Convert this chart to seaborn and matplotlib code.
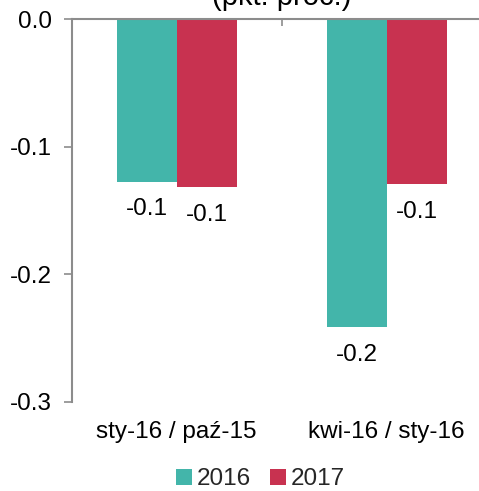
import matplotlib
matplotlib.use("Agg")
import matplotlib.pyplot as plt
import seaborn as sns
import pandas as pd

categories = ["sty-16 / paź-15", "kwi-16 / sty-16"]
years = ["2016", "2017"]
values_2016 = [-0.1275, -0.2416]
values_2017 = [-0.1319, -0.1295]
yticks = [0.0, -0.1, -0.2, -0.3]
title = "(pkt. proc.)"

df = pd.DataFrame({
    "cat": categories * 2,
    "year": [years[0]] * 2 + [years[1]] * 2,
    "val": values_2016 + values_2017,
})

sns.set_style("white")
plt.rcParams["font.family"] = ["Liberation Sans", "DejaVu Sans"]

fs = 17.5
fig = plt.figure(figsize=(4.79, 4.91), dpi=100)
ax = fig.add_axes([71.7 / 479, (491 - 401.7) / 491, 420 / 479, 382.7 / 491])

colors = ["#43B5AA", "#C83250"]
sns.barplot(data=df, x="cat", y="val", hue="year", palette=colors,
            saturation=1, width=0.571, gap=0, ax=ax, legend=True,
            edgecolor="none")

for c in ax.containers:
    ax.bar_label(c, fmt="%.1f", padding=12, fontsize=fs, color="#000000")

ax.set_xlim(-0.5, 1.5)
ax.set_ylim(-0.3, 0.0)
ax.set_yticks(yticks)
ax.set_yticklabels([f"{v:.1f}" for v in yticks])
ax.set_xlabel("")
ax.set_ylabel("")

gray = "#8C8C8C"
for s in ["right", "bottom"]:
    ax.spines[s].set_visible(False)
for s in ["left", "top"]:
    ax.spines[s].set_visible(True)
    ax.spines[s].set_color(gray)
    ax.spines[s].set_linewidth(1.5)

ax.tick_params(axis="y", which="major", direction="out", length=5.5, width=1.2,
               color=gray, labelsize=fs, pad=9, left=True, labelcolor="#000000")
ax.tick_params(axis="x", which="major", length=0, labelsize=fs, pad=14,
               labelcolor="#000000")
ax.set_xticks([0, 1], minor=False)
ax.set_xticklabels(categories)
ax.set_xticks([0.5], minor=True)
ax.tick_params(axis="x", which="minor", top=True, bottom=False, direction="in",
               length=5, width=1.2, color=gray)

handles, labels = ax.get_legend_handles_labels()
ax.get_legend().remove()
fig.legend(handles, labels, loc="center", bbox_to_anchor=(0.544, 0.024),
           ncol=2, frameon=False, fontsize=fs, handlelength=0.65,
           handleheight=0.65, handletextpad=0.2, columnspacing=0.8,
           borderaxespad=0, borderpad=0)

fig.text(282 / 479, 1 - 5 / 491, title, ha="center", va="baseline",
         fontsize=21, color="#000000")

fig.savefig("out.png", dpi=100)
